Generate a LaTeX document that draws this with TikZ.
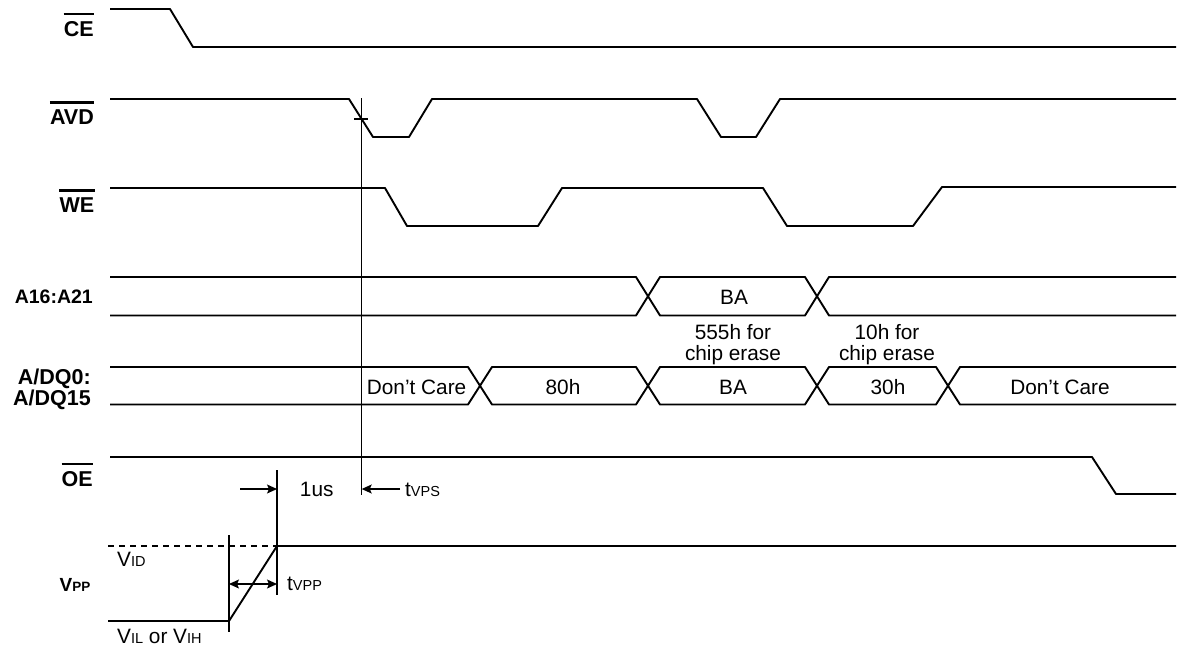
\documentclass[tikz,border=0pt]{standalone}
\usepackage{fontspec}
\setmainfont{Liberation Sans}
\usetikzlibrary{arrows.meta}
\newcommand\lowtxt[1]{{\fontsize{14.5}{16}\selectfont #1}}
\newcommand\busseg[4]{\draw[sig] ({#1},{(#3+#4)/2}) -- ({#1+12},#3) -- ({#2-12},#3) -- ({#2},{(#3+#4)/2}) -- ({#2-12},#4) -- ({#1+12},#4) -- cycle;}
\begin{document}
\begin{tikzpicture}[x=1pt,y=-1pt,
  sig/.style={line width=1.9pt, line join=round},
  guide/.style={line width=1.1pt},
  lbl/.style={font=\fontsize{21.5}{22}\selectfont\bfseries, inner sep=0pt, anchor=base east},
  ovl/.style={line width=2.4pt},
  txt/.style={font=\fontsize{20.8}{21}\selectfont, inner sep=0pt, anchor=base},
  arr/.style={guide, -{Stealth[length=10pt,width=9pt,inset=2pt]}},
  dbl/.style={guide, {Stealth[length=10pt,width=9pt,inset=2pt]}-{Stealth[length=10pt,width=9pt,inset=2pt]}},
]
\useasboundingbox (0,0) rectangle (1180,646);

% ---------- signal labels ----------
\node[lbl] (ce) at (94,36) {CE};
\draw[ovl] ([yshift=6.5pt]ce.north west) -- ([yshift=6.5pt]ce.north east);
\node[lbl] (avd) at (94,124) {AVD};
\draw[ovl] ([yshift=6.5pt]avd.north west) -- ([yshift=6.5pt]avd.north east);
\node[lbl] (we) at (94.5,212) {WE};
\draw[ovl] ([yshift=6.5pt]we.north west) -- ([yshift=6.5pt]we.north east);
\node[lbl, font=\fontsize{19.5}{20}\selectfont\bfseries] (addr) at (93,303) {A16:A21};
\node[lbl] (adq0) at (91,384) {A/DQ0:};
\node[lbl] (adq15) at (91,405) {A/DQ15};
\node[lbl] (oe) at (93,486) {OE};
\draw[ovl] ([yshift=6.5pt]oe.north west) -- ([yshift=6.5pt]oe.north east);
\node[inner sep=0pt, anchor=base east] (vpp) at (90.5,591.5)
  {\fontsize{19}{20}\selectfont\bfseries V\fontsize{13.5}{14}\selectfont PP};

% ---------- waveforms ----------
\draw[sig] (110,9) -- (170,9) -- (193,47) -- (1176,47);
\draw[sig] (110,99) -- (349,99) -- (373,137) -- (409,137) -- (432,99) -- (697,99)
  -- (721,137) -- (756,137) -- (780,99) -- (1176,99);
\draw[sig] (110,188) -- (385,188) -- (407,226) -- (538,226) -- (562,188) -- (763,188)
  -- (787,226) -- (913,226) -- (942,187) -- (1176,187);
\draw[sig] (110,457) -- (1092,457) -- (1116,494) -- (1176,494);
\draw[sig] (108,621) -- (229,621) -- (277,546) -- (1176,546);
\draw[guide, dash pattern=on 6pt off 5pt] (108,546) -- (277,546);

% ---------- A16:A21 bus ----------
\draw[sig] (110,277) -- (636,277) -- (648,296.25) -- (636,315.5) -- (110,315.5);
\busseg{648}{817}{277}{315.5}
\draw[sig] (1176,277) -- (829,277) -- (817,296.25) -- (829,315.5) -- (1176,315.5);
\node[txt] (ba1) at (734,304) {BA};

% ---------- A/DQ bus ----------
\draw[sig] (110,367) -- (468,367) -- (480,385.75) -- (468,404.5) -- (110,404.5);
\busseg{480}{648}{367}{404.5}
\busseg{648}{817}{367}{404.5}
\busseg{817}{948}{367}{404.5}
\draw[sig] (1176,367) -- (960,367) -- (948,385.75) -- (960,404.5) -- (1176,404.5);
\node[txt, anchor=base east] (dc1) at (466.5,394.5) {Don’t Care};
\node[txt] (d80) at (563,394.5) {80h};
\node[txt] (ba2) at (733,394.5) {BA};
\node[txt] (d30) at (888,394.5) {30h};
\node[txt] (dc2) at (1060,394.5) {Don’t Care};
\node[txt] (n555a) at (733,339.5) {555h for};
\node[txt] (n555b) at (733,360.5) {chip erase};
\node[txt] (n10a) at (887,339.5) {10h for};
\node[txt] (n10b) at (887,360.5) {chip erase};

% ---------- timing guides ----------
\coordinate (vpsTop) at (361.7,98);
\coordinate (vpsBot) at (361.7,495);
\draw[guide] (vpsTop) -- (vpsBot);
\coordinate (tickL) at (354,119);
\coordinate (tickR) at (368,119);
\draw[guide] (tickL) -- (tickR);
\coordinate (ppTop) at (277,470);
\coordinate (ppBot) at (277,595);
\draw[guide] (ppTop) -- (ppBot);
\coordinate (ilTop) at (229,535);
\coordinate (ilBot) at (229,632);
\draw[guide] (ilTop) -- (ilBot);

\coordinate (usL) at (240,489);
\coordinate (usR) at (277,489);
\draw[arr] (usL) -- (usR);
\node[txt] (us) at (316.7,496.7) {1us};
\coordinate (vpsA) at (400,489);
\coordinate (vpsB) at (361.7,489);
\draw[arr] (vpsA) -- (vpsB);
\node[txt, anchor=base west] (tvps) at (405,496.7) {t\lowtxt{VPS}};

\coordinate (vppA) at (229,584);
\coordinate (vppB) at (277,584);
\draw[dbl] (vppA) -- (vppB);
\node[txt, anchor=base west] (tvpp) at (287,590.7) {t\lowtxt{VPP}};

\node[txt, anchor=base west] (vid) at (117,566.7) {V\lowtxt{ID}};
\node[txt, anchor=base west] (vil) at (117,643) {V\lowtxt{IL} or V\lowtxt{IH}};
\end{tikzpicture}
\end{document}
